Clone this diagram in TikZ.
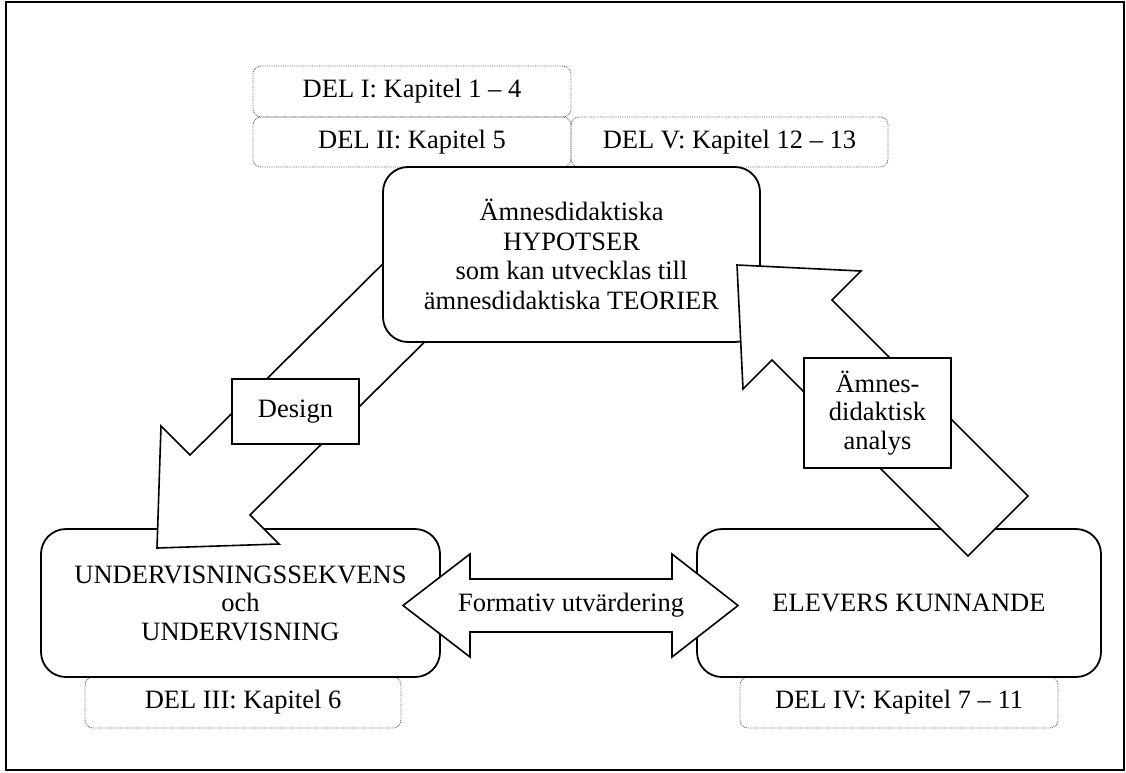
\documentclass[tikz,border=0pt]{standalone}
\usepackage{fontspec}
\setmainfont{Liberation Serif}
\begin{document}
\begin{tikzpicture}[x=1pt,y=-1pt,
  txt/.style={font=\fontsize{26.5}{28.5}\selectfont, align=center},
  mainbox/.style={txt, draw, line width=1.8pt, rounded corners=25pt, fill=white, inner sep=0pt},
  delbox/.style={txt, draw=gray!70!black, dash pattern=on 0.8pt off 1pt, line width=0.9pt, rounded corners=8pt, inner sep=0pt},
  blockarrow/.style={draw, line width=1.6pt, fill=white, line join=miter},
  labelbox/.style={txt, draw, line width=1.2pt, fill=white, inner sep=0pt}]
\useasboundingbox (0,0) rectangle (1126,772);
\draw[line width=1.2pt] (6,2) rectangle (1124,770);

% dotted chapter boxes
\node[delbox, minimum width=318pt, minimum height=51pt] (d1) at (412,91.5) {DEL I: Kapitel 1 -- 4};
\node[delbox, minimum width=318pt, minimum height=50pt] (d2) at (412,142) {DEL II: Kapitel 5};
\node[delbox, minimum width=317pt, minimum height=50pt] (d5) at (729.5,142) {DEL V: Kapitel 12 -- 13};
\node[delbox, minimum width=316pt, minimum height=51pt] (d3) at (243,702.5) {DEL III: Kapitel 6};
\node[delbox, minimum width=318pt, minimum height=51pt] (d4) at (899,702.5) {DEL IV: Kapitel 7 -- 11};

% lower boxes
\node[mainbox, minimum width=399pt, minimum height=148pt] (und) at (240.5,603)
  {UNDERVISNINGSSEKVENS\\och\\UNDERVISNING};
\node[mainbox, minimum width=404pt, minimum height=148pt] (elev) at (899,603)
  {\hspace*{20pt}ELEVERS KUNNANDE};

% Design arrow (from top box down-left to teaching box)
\coordinate (ds1) at (420,227);
\coordinate (ds2) at (480,287);
\coordinate (di1) at (190,455);
\coordinate (db1) at (161,426);
\coordinate (dt)  at (157,548);
\coordinate (db2) at (279,544);
\coordinate (di2) at (250,515);
\draw[blockarrow] (ds1) -- (di1) -- (db1) -- (dt) -- (db2) -- (di2) -- (ds2) -- cycle;

% top box
\node[mainbox, minimum width=377pt, minimum height=175pt, font=\fontsize{26.5}{29.5}\selectfont] (hyp) at (571.5,254.5)
  {Ämnesdidaktiska\\HYPOTSER\\som kan utvecklas till\\ämnesdidaktiska TEORIER};

% analysis arrow (from pupils' knowing up-left to top box)
\coordinate (ae1) at (1028,496);
\coordinate (ae2) at (968,556);
\coordinate (ai1) at (832,300);
\coordinate (ab1) at (861,271);
\coordinate (at)  at (737,265);
\coordinate (ab2) at (743,389);
\coordinate (ai2) at (772,360);
\draw[blockarrow] (ae1) -- (ai1) -- (ab1) -- (at) -- (ab2) -- (ai2) -- (ae2) -- cycle;

% formative evaluation double arrow
\coordinate (fl) at (403,605.5);
\coordinate (fr) at (738,605.5);
\draw[blockarrow] (fl) -- (470,554) -- (470,579) -- (672,579) -- (672,554) -- (fr)
  -- (672,657) -- (672,632) -- (470,632) -- (470,657) -- cycle;
\node[txt] (form) at (571,605.5) {Formativ utvärdering};

% labels
\node[labelbox, minimum width=127pt, minimum height=65pt] (design) at (295.5,411.5) {Design};
\node[labelbox, minimum width=147pt, minimum height=110pt] (analys) at (877.5,413)
  {Ämnes-\\didaktisk\\analys};
\end{tikzpicture}
\end{document}
